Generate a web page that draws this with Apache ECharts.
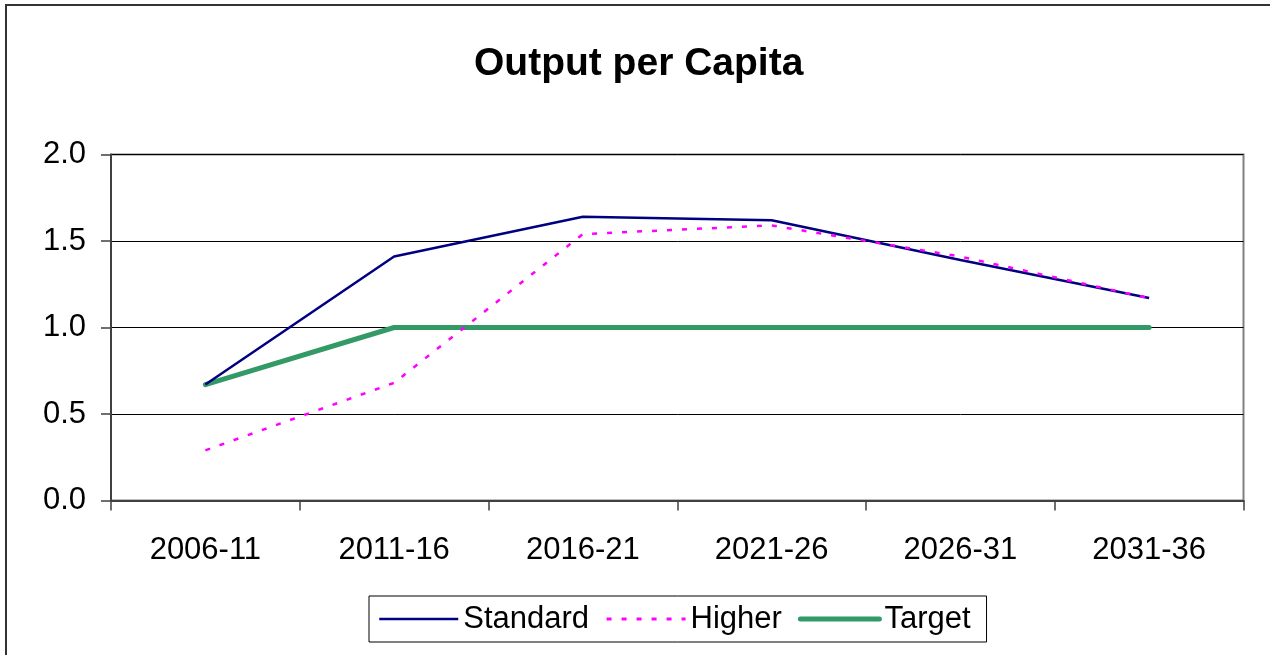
<!DOCTYPE html>
<html>
<head>
<meta charset="utf-8">
<script src="https://cdn.jsdelivr.net/npm/echarts@6/dist/echarts.min.js"></script>
<style>
html,body{margin:0;padding:0;background:#fff;}
#chart{width:1270px;height:655px;}
</style>
</head>
<body>
<div id="chart"></div>
<script>
var categories = ['2006-11','2011-16','2016-21','2021-26','2026-31','2031-36'];
var standardValues = [0.67, 1.41, 1.64, 1.62, 1.39, 1.17];
var higherValues = [0.29, 0.68, 1.54, 1.59, 1.41, 1.17];
var targetValues = [0.67, 1.0, 1.0, 1.0, 1.0, 1.0];
var yTicks = { min: 0, max: 2, interval: 0.5 };

var FONT = '"Liberation Sans", Arial, sans-serif';
var chart = echarts.init(document.getElementById('chart'), null, {renderer: 'canvas'});
chart.setOption({
  animation: false,
  backgroundColor: '#fff',
  title: {
    text: 'Output per Capita',
    left: 469,
    top: 40,
    textStyle: {fontFamily: FONT, fontSize: 39, fontWeight: 'bold', color: '#000'}
  },
  graphic: [{
    type: 'polyline',
    shape: {points: [[6, 700], [6, 5], [1300, 5]]},
    style: {stroke: '#333', lineWidth: 2, fill: null},
    silent: true
  }],
  legend: {
    left: 369,
    top: 596,
    orient: 'horizontal',
    itemWidth: 79,
    itemHeight: 14,
    itemGap: 16,
    padding: [7.5, 16, 7.5, 9],
    borderColor: '#000',
    borderWidth: 1,
    itemStyle: {opacity: 0},
    textStyle: {fontFamily: FONT, fontSize: 31, color: '#000'},
    data: [
      {name: 'Standard', lineStyle: {color: '#000080', width: 2.5}},
      {name: 'Higher', lineStyle: {color: '#FF00FF', width: 3, type: [5, 10]}},
      {name: 'Target', lineStyle: {color: '#339966', width: 5, cap: 'round'}}
    ]
  },
  grid: {
    left: 111, right: 26.5, top: 154.5, bottom: 154.5,
    show: true, borderColor: '#808080', borderWidth: 2, backgroundColor: 'transparent'
  },
  xAxis: {
    type: 'category',
    data: categories,
    boundaryGap: true,
    axisLine: {show: true, lineStyle: {color: '#404040', width: 2}},
    axisTick: {show: true, length: 10, lineStyle: {color: '#404040', width: 1.5}},
    axisLabel: {fontFamily: FONT, fontSize: 31, color: '#000', margin: 34}
  },
  yAxis: {
    type: 'value',
    min: yTicks.min, max: yTicks.max, interval: yTicks.interval,
    axisLine: {show: true, lineStyle: {color: '#404040', width: 2}},
    axisTick: {show: true, length: 10, lineStyle: {color: '#404040', width: 1.5}},
    axisLabel: {fontFamily: FONT, fontSize: 31, color: '#000', margin: 25,
      formatter: function (v) { return v.toFixed(1); }},
    splitLine: {show: true, lineStyle: {color: '#000', width: 1}}
  },
  series: [
    {name: 'Standard', type: 'line', data: standardValues, symbol: 'none',
      lineStyle: {color: '#000080', width: 2.5}, itemStyle: {color: '#000080'}, z: 3},
    {name: 'Higher', type: 'line', data: higherValues, symbol: 'none',
      lineStyle: {color: '#FF00FF', width: 2.5, type: [5, 10]}, itemStyle: {color: '#FF00FF'}, z: 4},
    {name: 'Target', type: 'line', data: targetValues, symbol: 'none',
      lineStyle: {color: '#339966', width: 5, cap: 'round'}, itemStyle: {color: '#339966'}, z: 2}
  ]
});
</script>
</body>
</html>
